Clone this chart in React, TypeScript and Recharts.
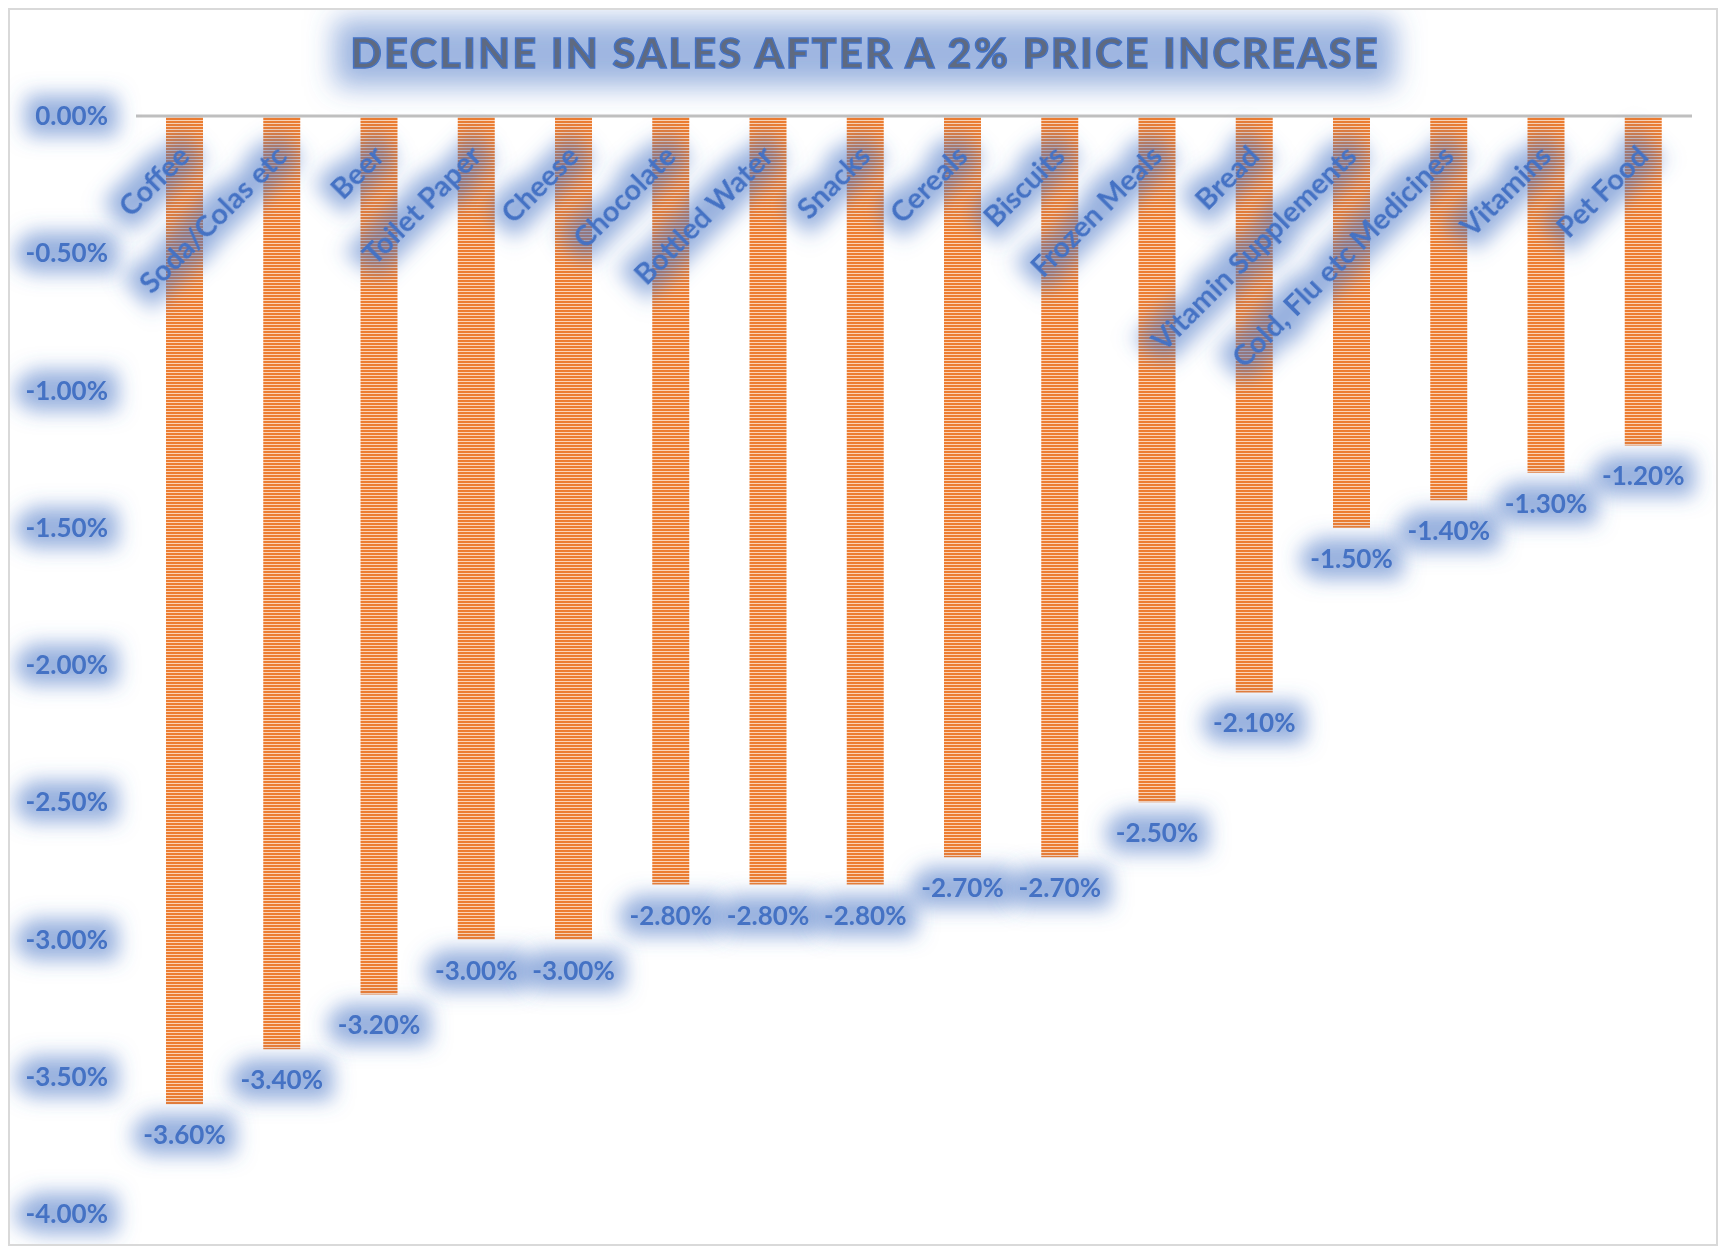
import React from "react";
import { BarChart, Bar, XAxis, YAxis, LabelList, ReferenceLine } from "recharts";

const categories = [
  "Coffee",
  "Soda/Colas etc",
  "Beer",
  "Toilet Paper",
  "Cheese",
  "Chocolate",
  "Bottled Water",
  "Snacks",
  "Cereals",
  "Biscuits",
  "Frozen Meals",
  "Bread",
  "Vitamin Supplements",
  "Cold, Flu etc Medicines",
  "Vitamins",
  "Pet Food",
];
const declines = [
  -3.6, -3.4, -3.2, -3.0, -3.0, -2.8, -2.8, -2.8, -2.7, -2.7, -2.5, -2.1, -1.5,
  -1.4, -1.3, -1.2,
];
const yTicks = [0, -0.5, -1, -1.5, -2, -2.5, -3, -3.5, -4];
const title = "DECLINE IN SALES AFTER A 2% PRICE INCREASE";

const data = categories.map((name, i) => ({ name, value: declines[i] }));

const BLUE = "#4472C4";
const FONT = "Lato, 'Open Sans', sans-serif";
const pct = (v: number) => `${v.toFixed(2)}%`;

function YTick(props: any) {
  const { x, y, payload } = props;
  return (
    <text
      x={x}
      y={y}
      dy={9}
      textAnchor="end"
      fill={BLUE}
      fontFamily={FONT}
      fontWeight={700}
      fontSize={26}
      filter="url(#glow)"
    >
      {pct(payload.value)}
    </text>
  );
}

function NameLabel(props: any) {
  const { x, y, width, height, value } = props;
  const top = Math.min(y, y + height);
  const ax = x + width / 2 + 7;
  const ay = top + 42;
  return (
    <text
      x={ax}
      y={ay}
      textAnchor="end"
      transform={`rotate(-45 ${ax} ${ay})`}
      fill={BLUE}
      fontFamily={FONT}
      fontWeight={700}
      fontSize={29}
      filter="url(#glow)"
    >
      {value}
    </text>
  );
}

function ValueLabel(props: any) {
  const { x, y, width, height, value } = props;
  const bottom = Math.max(y, y + height);
  return (
    <text
      x={x + width / 2}
      y={bottom + 40}
      textAnchor="middle"
      fill={BLUE}
      fontFamily={FONT}
      fontWeight={700}
      fontSize={26}
      filter="url(#glow)"
    >
      {pct(value)}
    </text>
  );
}

export default function App() {
  return (
    <div
      style={{
        position: "relative",
        width: 1706,
        height: 1234,
        border: "2px solid #d9d9d9",
        background: "#fff",
      }}
    >
      <svg
        width={1706}
        height={108}
        style={{ position: "absolute", left: 0, top: 0 }}
      >
        <defs>
          <filter
            id="titleGlow"
            filterUnits="userSpaceOnUse"
            x="0"
            y="0"
            width="1706"
            height="108"
          >
            <feMorphology in="SourceAlpha" operator="dilate" radius="18" result="d" />
            <feGaussianBlur in="d" stdDeviation="14" result="b" />
            <feFlood floodColor={BLUE} floodOpacity="0.52" />
            <feComposite in2="b" operator="in" result="g" />
            <feMerge>
              <feMergeNode in="g" />
              <feMergeNode in="SourceGraphic" />
            </feMerge>
          </filter>
        </defs>
        <text
          x={854}
          y={58}
          textAnchor="middle"
          textLength={1027}
          lengthAdjust="spacing"
          fontFamily={FONT}
          fontWeight={900}
          fontSize={41}
          fill="#5f6b80"
          stroke={BLUE}
          strokeWidth={1.5}
          filter="url(#titleGlow)"
        >
          {title}
        </text>
      </svg>
      <BarChart
        width={1706}
        height={1234}
        data={data}
        margin={{ top: 106, right: 24, bottom: 30, left: 10 }}
        barSize={37}
      >
        <defs>
          <pattern id="stripes" width="6" height="3" patternUnits="userSpaceOnUse">
            <rect width="6" height="3" fill="#fbd3b6" />
            <rect width="6" height="2" fill="#ED7D31" />
          </pattern>
          <filter id="glow" x="-60%" y="-200%" width="220%" height="500%">
            <feMorphology in="SourceAlpha" operator="dilate" radius="11" result="d" />
            <feGaussianBlur in="d" stdDeviation="10" result="b" />
            <feFlood floodColor={BLUE} floodOpacity="0.55" />
            <feComposite in2="b" operator="in" result="g" />
            <feMerge>
              <feMergeNode in="g" />
              <feMergeNode in="SourceGraphic" />
            </feMerge>
          </filter>
        </defs>
        <XAxis dataKey="name" hide />
        <YAxis
          domain={[-4, 0]}
          ticks={yTicks}
          width={116}
          axisLine={false}
          tickLine={false}
          tickSize={0}
          tickMargin={28}
          tick={<YTick />}
          interval={0}
        />
        <Bar dataKey="value" fill="url(#stripes)" isAnimationActive={false}>
          <LabelList dataKey="name" content={<NameLabel />} />
          <LabelList dataKey="value" content={<ValueLabel />} />
        </Bar>
        <ReferenceLine y={0} stroke="#bfbfbf" strokeWidth={3} />
      </BarChart>
    </div>
  );
}
